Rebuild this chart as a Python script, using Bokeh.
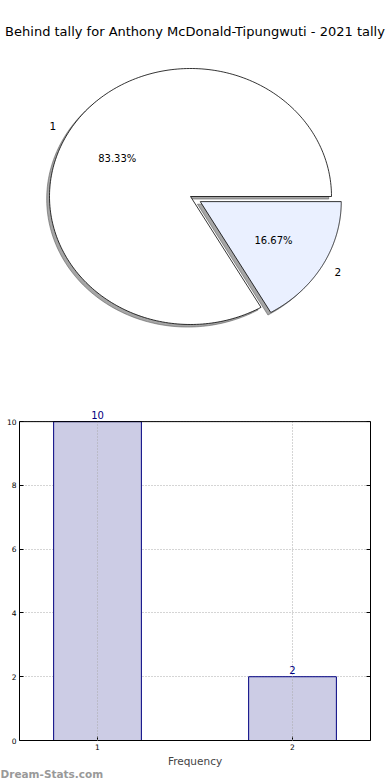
import numpy as np
from bokeh.plotting import figure
from bokeh.models import (Range1d, LabelSet, ColumnDataSource, FixedTicker, Title,
                          LinearAxis, Span)
from bokeh.core.properties import value
from bokeh.layouts import column
from bokeh.embed import file_html
from bokeh.resources import INLINE

# ---------------- data ----------------
title_text = "Behind tally for Anthony McDonald-Tipungwuti - 2021 tally"
categories = [1, 2]
counts = [10, 2]
slice_colors = ["#FFFFFF", "#EAF0FF"]
explode = [0.0, 0.08]
y_ticks = [0, 2, 4, 6, 8, 10]
x_label = "Frequency"
watermark = "Dream-Stats.com"

FONT = "DejaVu Sans"
W = 390
H1 = 400
H2 = 380
BL, BR = 19, 20            # left / right borders (shared frame columns)

# ---------------- pie ----------------
TOP1 = 45                  # title panel height
rx, ry = 141.0, 128.0      # pixels per unit radius (elliptical pie)
fw1 = W - BL - BR
fh1 = H1 - TOP1
cx, cy = 190.0 - BL, 204.0  # pie centre in frame px (from left, from bottom)
p1 = figure(width=W, height=H1, output_backend="svg", toolbar_location=None,
            x_axis_type=None, y_axis_type=None,
            min_border_left=BL, min_border_right=BR, min_border_top=TOP1,
            min_border_bottom=0,
            x_range=Range1d(-cx / rx, (fw1 - cx) / rx),
            y_range=Range1d(-cy / ry, (fh1 - cy) / ry))
p1.grid.visible = False
p1.outline_line_color = None
p1.title = Title(text=title_text, align="center", text_font=FONT,
                 text_font_size="13px", text_font_style="normal",
                 text_color="black", standoff=14)

total = float(sum(counts))
wedge_xs, wedge_ys, sh_xs, sh_ys = [], [], [], []
lab_x, lab_y, lab_t, lab_align = [], [], [], []
pct_x, pct_y, pct_t = [], [], []
start = 0.0
for cat, c, e in zip(categories, counts, explode):
    frac = c / total
    a0 = 2 * np.pi * start
    a1 = 2 * np.pi * (start + frac)
    mid = 0.5 * (a0 + a1)
    ox, oy = e * np.cos(mid), e * np.sin(mid)
    th = np.linspace(a0, a1, 240)
    xs = np.concatenate([[ox], ox + np.cos(th)])
    ys = np.concatenate([[oy], oy + np.sin(th)])
    wedge_xs.append(list(xs)); wedge_ys.append(list(ys))
    sh_xs.append(list(xs - 0.02)); sh_ys.append(list(ys - 0.02))
    lx, ly = ox + 1.1 * np.cos(mid), oy + 1.1 * np.sin(mid)
    lab_x.append(lx); lab_y.append(ly); lab_t.append(str(cat))
    lab_align.append("right" if lx < 0 else "left")
    pct_x.append(ox + 0.6 * np.cos(mid)); pct_y.append(oy + 0.6 * np.sin(mid))
    pct_t.append("%.2f%%" % (100 * frac))
    start += frac

p1.patches(xs=sh_xs, ys=sh_ys, fill_color="#4d4d4d", fill_alpha=0.5,
           line_color="#4d4d4d", line_alpha=0.5, line_width=1)
p1.patches(xs=wedge_xs, ys=wedge_ys, fill_color=slice_colors,
           line_color="black", line_width=0.8)

lab_src = ColumnDataSource(dict(x=lab_x, y=lab_y, t=lab_t, a=lab_align))
p1.add_layout(LabelSet(x="x", y="y", text="t", source=lab_src, text_align="a",
                       text_baseline="middle", text_font=value(FONT),
                       text_font_size="10.5px", text_color="black"))
pct_src = ColumnDataSource(dict(x=pct_x, y=pct_y, t=pct_t))
p1.add_layout(LabelSet(x="x", y="y", text="t", source=pct_src, text_align="center",
                       text_baseline="middle", text_font=value(FONT),
                       text_font_size="10px", text_color="black"))

# ---------------- bar ----------------
y_top = 10.6               # a little head-room so the "10" label is not clipped
p2 = figure(width=W, height=H2, output_backend="svg", toolbar_location=None,
            x_range=Range1d(0.6, 2.4), y_range=Range1d(0, y_top),
            min_border_left=BL, min_border_right=BR, min_border_top=2,
            min_border_bottom=40)
src = ColumnDataSource(dict(x=categories, top=counts, t=[str(v) for v in counts]))
p2.vbar(x="x", top="top", width=0.45, source=src, fill_color="#CCCCE5",
        line_color="#000080", line_width=1)
p2.add_layout(LabelSet(x="x", y="top", text="t", source=src, text_align="center",
                       text_baseline="bottom", y_offset=3, text_font=value(FONT),
                       text_font_size="10px", text_color="#000080"))

# right frame edge (ticks inside, no labels), drawn only up to the top tick
right_ax = LinearAxis()
p2.add_layout(right_ax, "right")

p2.xaxis.ticker = FixedTicker(ticks=categories)
for ax in (p2.yaxis[0], right_ax):
    ax.ticker = FixedTicker(ticks=y_ticks)
    ax.bounds = (y_ticks[0], y_ticks[-1])
for ax in (p2.xaxis[0], p2.yaxis[0], right_ax):
    ax.major_label_text_font = FONT
    ax.major_label_text_font_size = "7.5px"
    ax.major_label_text_color = "black"
    ax.major_tick_in = 4
    ax.major_tick_out = 0
    ax.minor_tick_in = 0
    ax.minor_tick_out = 0
    ax.major_label_standoff = 3
    ax.axis_line_color = "black"
    ax.major_tick_line_color = "black"
right_ax.major_label_text_color = None
right_ax.major_label_standoff = 0

p2.xaxis.axis_label = x_label
p2.xaxis.axis_label_text_font = FONT
p2.xaxis.axis_label_text_font_size = "10.5px"
p2.xaxis.axis_label_text_font_style = "normal"
p2.xaxis.axis_label_standoff = 2

p2.grid.grid_line_color = "#aaaaaa"
p2.grid.grid_line_dash = "1 2"
p2.grid.grid_line_width = 1
p2.xgrid.cross_bounds = (y_ticks[0], y_ticks[-1])
p2.xgrid.level = "annotation"
p2.outline_line_color = None
p2.background_fill_color = "white"
p2.add_layout(Span(location=y_ticks[-1], dimension="width", line_color="black",
                   line_width=1))

p2.add_layout(Title(text=watermark, align="left", offset=-BL, standoff=-7,
                    text_font=FONT, text_font_size="10.5px", text_font_style="bold",
                    text_color="#999999"), "below")

layout = column(p1, p2, spacing=0)
open("out.html", "w").write(file_html(layout, INLINE))
